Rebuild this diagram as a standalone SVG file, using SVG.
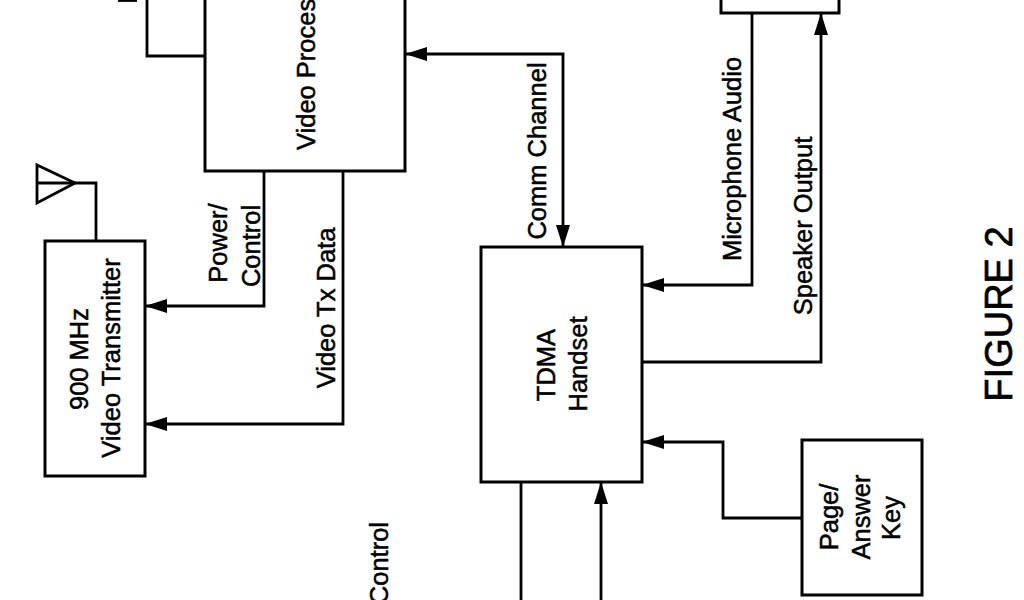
<svg xmlns="http://www.w3.org/2000/svg" width="1024" height="600" viewBox="0 0 1024 600">
  <defs>
    <marker id="arrow" markerUnits="userSpaceOnUse" markerWidth="22" markerHeight="14" refX="22" refY="7" orient="auto-start-reverse">
      <path d="M0,0 L22,7 L0,14 Z" fill="#000"/>
    </marker>
    <style>
      .box { fill: #fff; stroke: #000; stroke-width: 3; }
      .wire { fill: none; stroke: #000; stroke-width: 2.8; }
      .lbl { font-family: "Liberation Sans", Arial, sans-serif; font-size: 25.5px; fill: #000; stroke: #000; stroke-width: 0.5px; }
      .mid { text-anchor: middle; }
    </style>
  </defs>
  <rect width="1024" height="600" fill="#fff"/>

  <g id="connectors">
    <path class="wire" d="M147,-5 V56 H205"/>
    <path class="wire" d="M118,0.5 H137"/>
    <path class="wire" d="M405,54 H563 V247" marker-start="url(#arrow)" marker-end="url(#arrow)"/>
    <path class="wire" d="M264,171 V306 H145" marker-end="url(#arrow)"/>
    <path class="wire" d="M343,171 V424 H145" marker-end="url(#arrow)"/>
    <path class="wire" d="M752,13 V285 H642" marker-end="url(#arrow)"/>
    <path class="wire" d="M642,362 H821 V13" marker-end="url(#arrow)"/>
    <path class="wire" d="M802,518 H723 V442 H642" marker-end="url(#arrow)"/>
    <path class="wire" d="M521,482 V605"/>
    <path class="wire" d="M601,605 V482" marker-end="url(#arrow)"/>
  </g>

  <g id="video-processor">
    <rect class="box" x="205" y="-60" width="200" height="231"/>
    <text class="lbl" transform="translate(315,150) rotate(-90)">Video Processor</text>
  </g>

  <g id="top-right-box">
    <rect class="box" x="721" y="-40" width="118" height="53"/>
  </g>

  <g id="video-transmitter">
    <rect class="box" x="45" y="241" width="100" height="235"/>
    <text class="lbl mid" transform="translate(88,359) rotate(-90)">900 MHz</text>
    <text class="lbl mid" transform="translate(120,358) rotate(-90)">Video Transmitter</text>
  </g>

  <g id="antenna">
    <path class="wire" d="M96,241 V183 H75"/>
    <polygon class="wire" points="75,183 37,165 37,203"/>
    <path class="wire" d="M37,183 H75"/>
  </g>

  <g id="tdma-handset">
    <rect class="box" x="481" y="247" width="161" height="235"/>
    <text class="lbl mid" transform="translate(555,365) rotate(-90)">TDMA</text>
    <text class="lbl mid" transform="translate(587,364) rotate(-90)">Handset</text>
  </g>

  <g id="page-answer-key">
    <rect class="box" x="802" y="440" width="120" height="155"/>
    <text class="lbl mid" transform="translate(838,517) rotate(-90)">Page/</text>
    <text class="lbl mid" transform="translate(870,517) rotate(-90)">Answer</text>
    <text class="lbl mid" transform="translate(900,518) rotate(-90)">Key</text>
  </g>

  <g id="labels">
    <text class="lbl mid" transform="translate(227,243) rotate(-90)">Power/</text>
    <text class="lbl mid" transform="translate(260,246) rotate(-90)">Control</text>
    <text class="lbl mid" transform="translate(335,308) rotate(-90)">Video Tx Data</text>
    <text class="lbl mid" transform="translate(546,151) rotate(-90)">Comm Channel</text>
    <text class="lbl mid" transform="translate(741,159) rotate(-90)">Microphone Audio</text>
    <text class="lbl mid" transform="translate(812,226) rotate(-90)">Speaker Output</text>
    <text class="lbl" text-anchor="end" transform="translate(388,522) rotate(-90)">Control</text>
    <text class="lbl mid" style="font-size:38px;stroke-width:0.7px" transform="translate(1012,314) rotate(-90)">FIGURE 2</text>
  </g>
</svg>
